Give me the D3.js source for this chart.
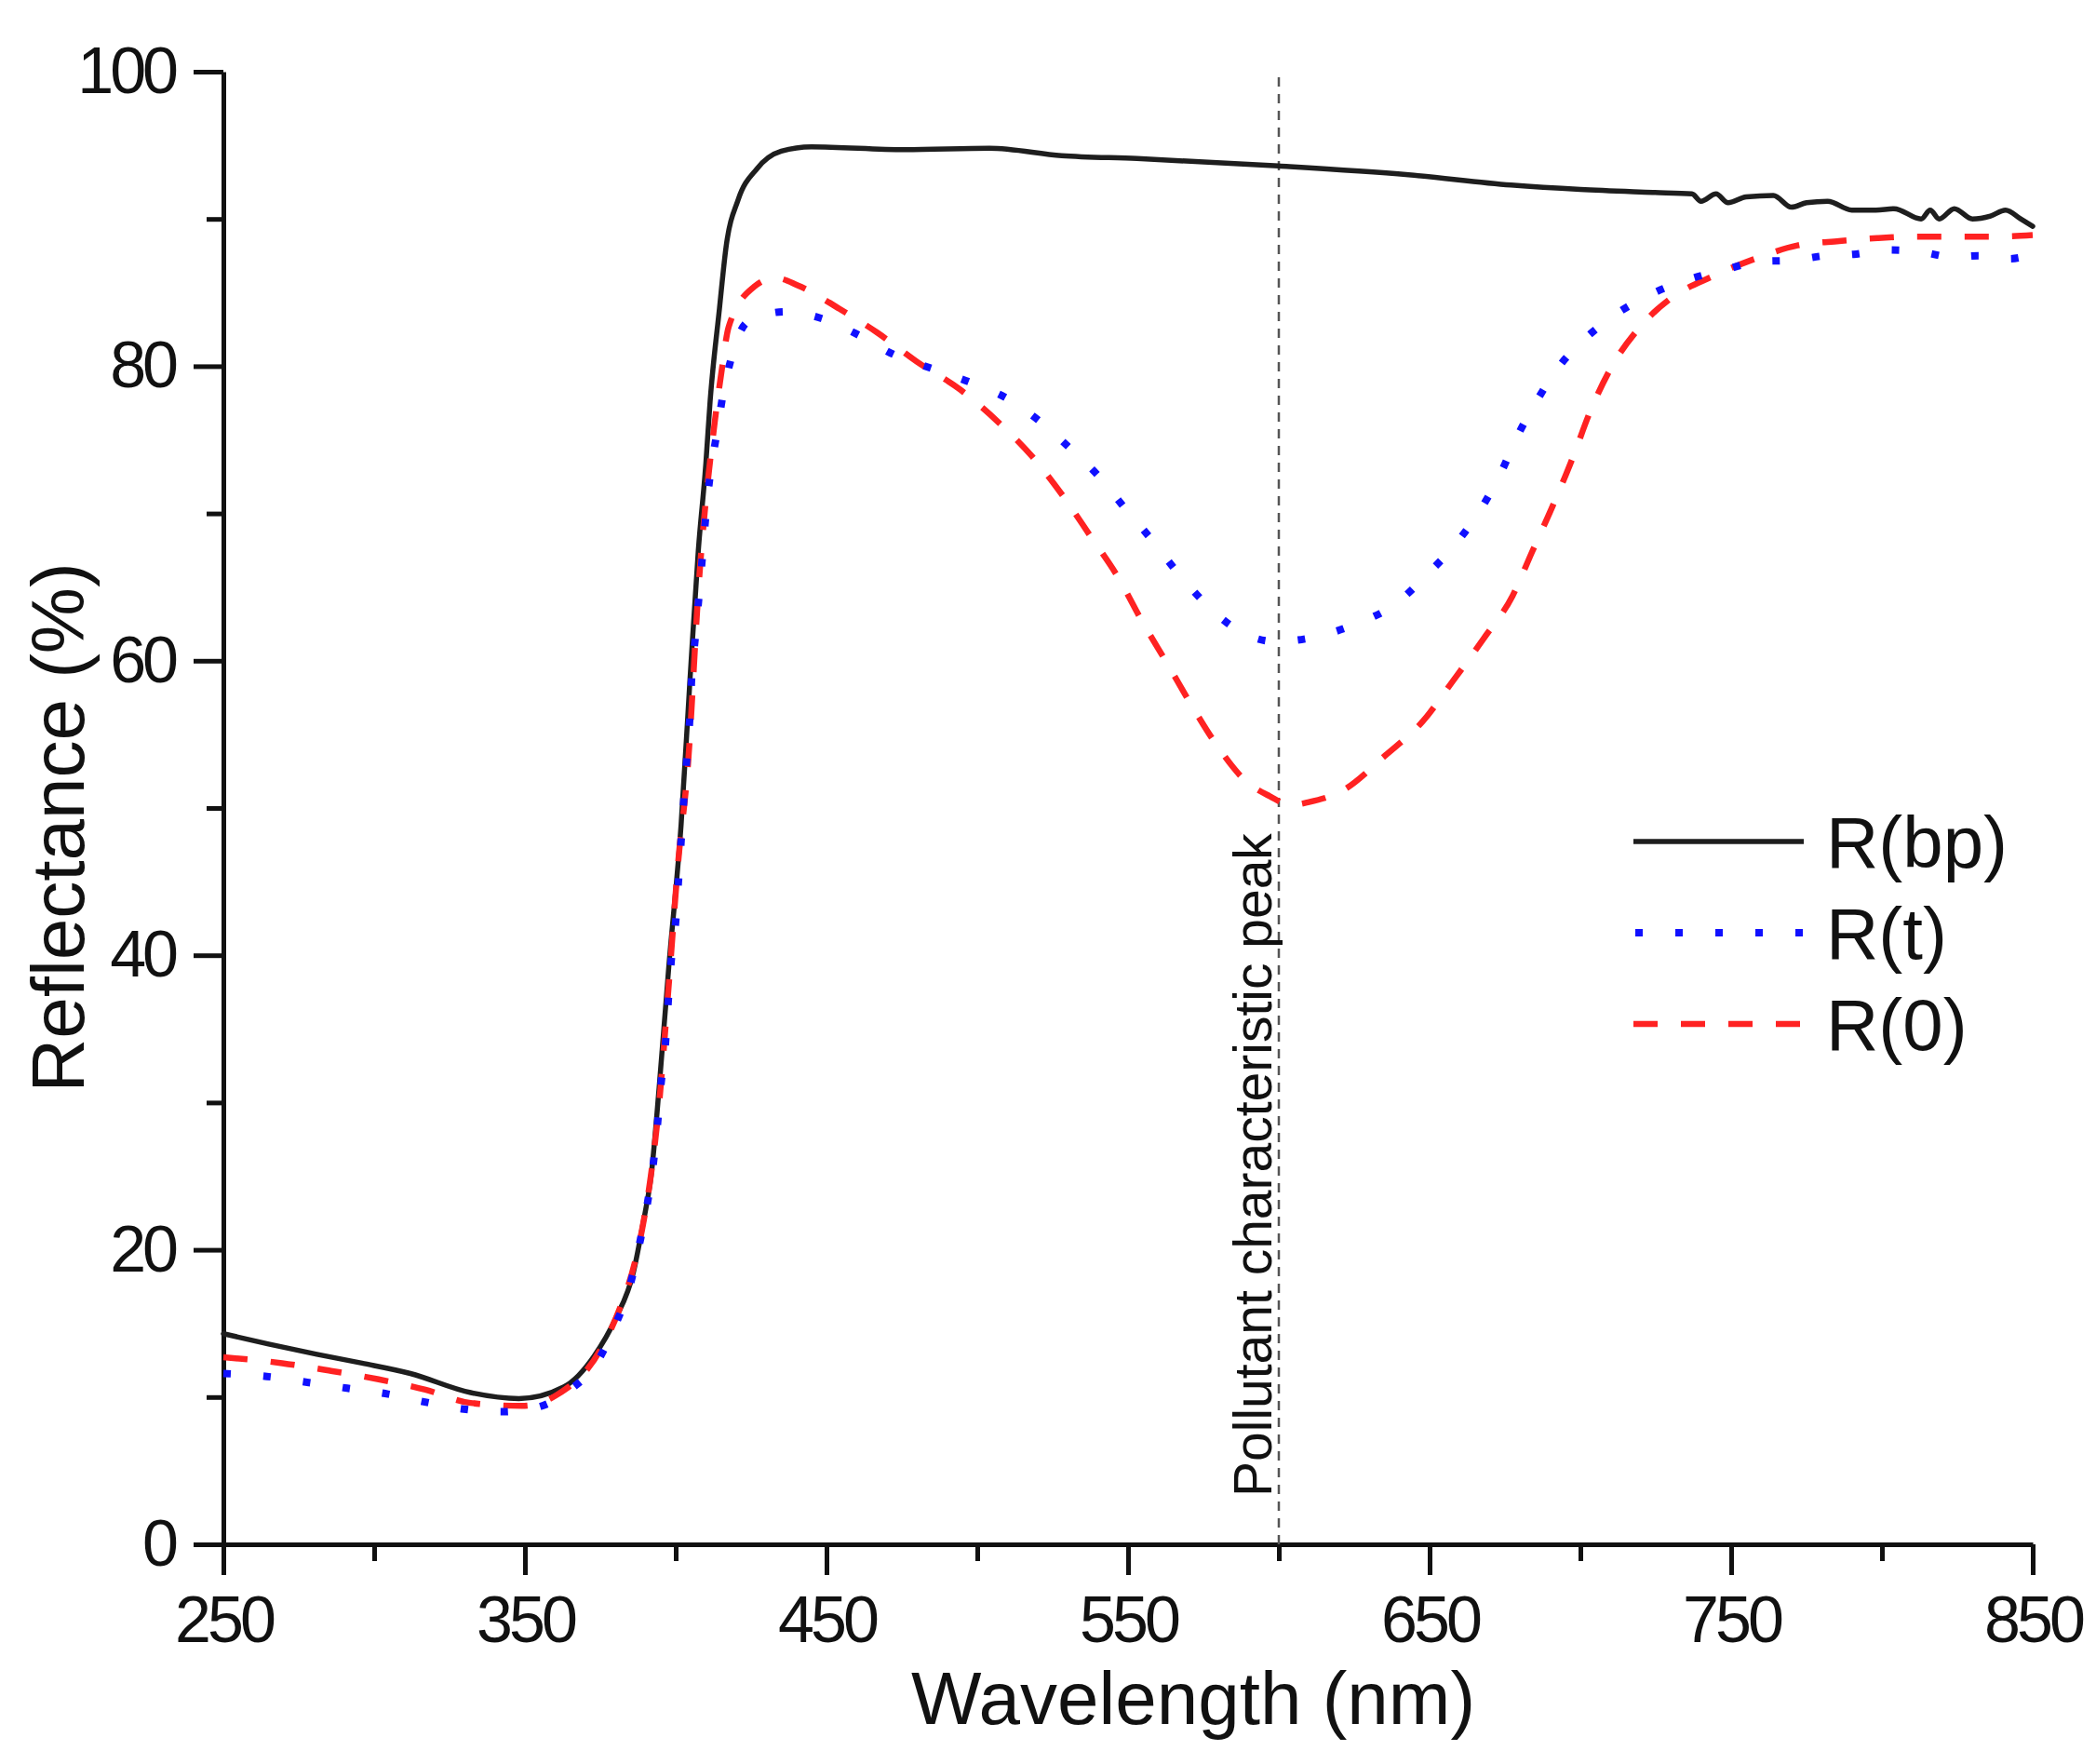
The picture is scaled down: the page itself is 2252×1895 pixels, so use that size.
<!DOCTYPE html>
<html>
<head>
<meta charset="utf-8">
<script src="https://cdn.jsdelivr.net/npm/d3@7/dist/d3.min.js"></script>
<style>
  html, body { margin: 0; padding: 0; background: #fff; }
  svg { display: block; }
  text { font-family: "Liberation Sans", Arial, sans-serif; fill: #111; }
</style>
</head>
<body>
<svg id="chart" width="2252" height="1895"></svg>
<script>
// ---------------- data ----------------
const xTickValues = [250, 350, 450, 550, 650, 750, 850];
const xMinorValues = [300, 400, 500, 600, 700, 800];
const yTickValues = [0, 20, 40, 60, 80, 100];
const yMinorValues = [10, 30, 50, 70, 90];

const seriesNames = ["R(bp)", "R(t)", "R(0)"];
const peakWavelength = 600;
const peakLabel = "Pollutant characteristic peak";

const wlBp = [250, 265, 281, 296, 312, 332, 348, 363, 373, 380, 386, 389, 392, 394.5, 397.7, 401.8, 404.7, 407.5, 410, 411.4, 414.5, 416.7, 420.7, 426.9, 435, 445, 476, 504, 528, 553, 600, 643, 677, 700, 724, 737, 740, 745, 749, 755, 764, 770, 775, 782, 790, 798, 804, 813, 816, 819, 824, 830, 836, 841, 846, 850];
const rBp  = [14.3, 13.6, 12.9, 12.3, 11.6, 10.3, 9.9, 10.7, 12.8, 15.3, 18.5, 21.6, 25.3, 31.0, 39.2, 48.9, 58.6, 67.5, 73.4, 77.6, 83.9, 88.1, 91.3, 93.4, 94.6, 94.9, 94.7, 94.8, 94.3, 94.1, 93.6, 93.0, 92.3, 92.0, 91.8, 91.7, 91.2, 91.7, 91.1, 91.5, 91.6, 90.8, 91.1, 91.2, 90.6, 90.6, 90.7, 90.0, 90.6, 90.0, 90.7, 90.0, 90.2, 90.6, 90.0, 89.5];

const wlT = [250, 264.4, 277.8, 291, 304.6, 316, 329, 342, 354, 365, 374, 380, 385, 388, 390.5, 392.6, 394, 395, 396.6, 397.5, 398.5, 400, 400.9, 401.8, 402.7, 403.7, 404.7, 405.3, 406.5, 408.9, 410, 411.4, 413.6, 415.7, 418.8, 423.8, 436.4, 449, 460.8, 472.2, 485.5, 497.8, 510, 520.5, 530.9, 539.5, 548.8, 557.1, 566.4, 575.6, 585.5, 598.8, 611.7, 625.6, 638.3, 649.4, 659.3, 667.3, 673.5, 679, 685.7, 692.6, 701.2, 712.3, 723.5, 736, 748.8, 759, 770.7, 781, 790.6, 802, 812, 823.7, 832, 842.3, 850];
const rT  = [11.6, 11.4, 11.0, 10.6, 10.2, 9.7, 9.2, 9.0, 9.3, 10.5, 12.4, 14.9, 17.7, 20.4, 23.0, 25.9, 28.6, 31.0, 34.0, 36.8, 39.6, 42.3, 45.0, 47.8, 50.6, 53.4, 56.2, 58.9, 61.6, 67.2, 69.9, 72.6, 75.4, 78.1, 80.8, 83.0, 83.7, 83.2, 82.1, 80.8, 79.8, 78.9, 77.8, 76.3, 74.4, 72.7, 70.4, 68.4, 66.0, 63.9, 62.2, 61.3, 61.6, 62.5, 63.8, 65.9, 68.1, 70.4, 72.7, 75.2, 77.7, 79.9, 81.8, 83.6, 84.9, 85.9, 86.6, 87.1, 87.2, 87.5, 87.6, 87.9, 87.8, 87.4, 87.5, 87.3, 87.6];

const wl0 = [250, 269.5, 285, 301.5, 317, 332, 349, 361, 375, 381.8, 386.4, 389.5, 392, 394.4, 397.7, 400.9, 403.9, 407.9, 413, 415.1, 417.6, 426, 433, 440.4, 454.3, 466.7, 480, 494.4, 507, 518.5, 528.4, 537.4, 546.9, 554.6, 563, 571, 579.3, 589.2, 597, 604, 610, 621.3, 635.5, 647.8, 658, 667.9, 677.5, 684, 691, 697.5, 703, 710.2, 719.1, 730.6, 743.8, 758, 772, 785.8, 798.5, 811, 824.4, 838.6, 850];
const r0  = [12.7, 12.3, 11.8, 11.2, 10.5, 9.6, 9.4, 10.2, 13.2, 16.2, 19.1, 22.1, 25.4, 29.7, 38.0, 46.5, 52.5, 65.9, 76.3, 79.5, 82.7, 85.4, 86.0, 85.5, 83.9, 82.3, 80.3, 78.4, 76.2, 73.8, 71.2, 68.5, 65.6, 62.7, 59.8, 57.0, 54.3, 51.8, 50.8, 50.2, 50.4, 51.2, 53.6, 55.9, 58.7, 61.5, 64.4, 67.4, 70.6, 73.8, 76.8, 79.9, 82.5, 84.7, 86.1, 87.3, 88.2, 88.5, 88.7, 88.8, 88.8, 88.8, 88.9];

(function () {
// ---------------- layout ----------------
const svg = d3.select("#chart");
const mLeft = 240, mRight = 2184, mTop = 77, mBottom = 1659;

const x = d3.scaleLinear().domain([250, 850]).range([mLeft, mRight]);
const y = d3.scaleLinear().domain([0, 100]).range([mBottom, mTop]);

const axisColor = "#111";
const axisW = 5;

// minor ticks
svg.append("g").attr("transform", `translate(0,${mBottom})`)
  .call(d3.axisBottom(x).tickValues(xMinorValues).tickSize(18).tickFormat(""))
  .call(g => g.select(".domain").remove())
  .call(g => g.selectAll("line").attr("stroke", axisColor).attr("stroke-width", axisW));
svg.append("g").attr("transform", `translate(${mLeft},0)`)
  .call(d3.axisLeft(y).tickValues(yMinorValues).tickSize(18).tickFormat(""))
  .call(g => g.select(".domain").remove())
  .call(g => g.selectAll("line").attr("stroke", axisColor).attr("stroke-width", axisW));

// major x axis
const gx = svg.append("g").attr("transform", `translate(0,${mBottom})`)
  .call(d3.axisBottom(x).tickValues(xTickValues).tickSize(33).tickSizeOuter(0).tickPadding(22).tickFormat(d3.format("d")));
gx.select(".domain").attr("stroke", axisColor).attr("stroke-width", axisW);
gx.selectAll(".tick line").attr("stroke", axisColor).attr("stroke-width", axisW);
gx.selectAll(".tick text")
  .attr("font-size", 70).attr("letter-spacing", "-4px")
  .attr("font-family", "Liberation Sans, Arial, sans-serif").attr("fill", "#111");

// major y axis
const gy = svg.append("g").attr("transform", `translate(${mLeft},0)`)
  .call(d3.axisLeft(y).tickValues(yTickValues).tickSize(32).tickSizeOuter(0).tickPadding(20).tickFormat(d3.format("d")));
gy.select(".domain").attr("stroke", axisColor).attr("stroke-width", axisW);
gy.selectAll(".tick line").attr("stroke", axisColor).attr("stroke-width", axisW);
gy.selectAll(".tick text")
  .attr("font-size", 70).attr("letter-spacing", "-4px")
  .attr("font-family", "Liberation Sans, Arial, sans-serif").attr("fill", "#111");

// peak marker line
svg.append("line")
  .attr("x1", x(peakWavelength)).attr("x2", x(peakWavelength))
  .attr("y1", 83).attr("y2", y(0))
  .attr("stroke", "#555").attr("stroke-width", 2.5).attr("stroke-dasharray", "10,8");

svg.append("text")
  .attr("transform", `translate(${x(peakWavelength) - 8},1608) rotate(-90)`)
  .attr("font-size", 57).attr("text-anchor", "start")
  .text(peakLabel);

// curves
const line = d3.line().x(d => x(d[0])).y(d => y(d[1])).curve(d3.curveMonotoneX);
const zip = (a, b) => a.map((v, i) => [v, b[i]]);

const styles = [
  { stroke: "#1e1e1e", width: 5.5, dash: null, cap: "round" },
  { stroke: "#1010ff", width: 8, dash: "8,35", cap: "butt" },
  { stroke: "#ff2222", width: 6.5, dash: "26,25", cap: "butt" }
];
const seriesData = [zip(wlBp, rBp), zip(wlT, rT), zip(wl0, r0)];

[0, 2, 1].forEach(i => {
  const s = styles[i];
  svg.append("path")
    .datum(seriesData[i])
    .attr("d", line)
    .attr("fill", "none")
    .attr("stroke", s.stroke)
    .attr("stroke-width", s.width)
    .attr("stroke-linecap", s.cap)
    .attr("stroke-linejoin", "round")
    .attr("stroke-dasharray", s.dash);
});

// legend
const legX1 = 1755, legX2 = 1938, legTextX = 1962;
const legBase = [932, 1030, 1128];
seriesNames.forEach((name, i) => {
  const s = styles[i];
  const ly = legBase[i] - 28;
  svg.append("line")
    .attr("x1", i === 1 ? legX1 + 2 : legX1).attr("x2", legX2).attr("y1", ly).attr("y2", ly)
    .attr("stroke", s.stroke).attr("stroke-width", s.width)
    .attr("stroke-dasharray", s.dash).attr("stroke-linecap", "butt");
  svg.append("text").attr("x", legTextX).attr("y", legBase[i])
    .attr("font-size", 78).text(name);
});

// axis titles
svg.append("text")
  .attr("x", 1282).attr("y", 1852)
  .attr("text-anchor", "middle").attr("font-size", 80)
  .text("Wavelength (nm)");
svg.append("text")
  .attr("transform", "translate(90,889) rotate(-90)")
  .attr("text-anchor", "middle").attr("font-size", 80)
  .text("Reflectance (%)");
})();
</script>
</body>
</html>
